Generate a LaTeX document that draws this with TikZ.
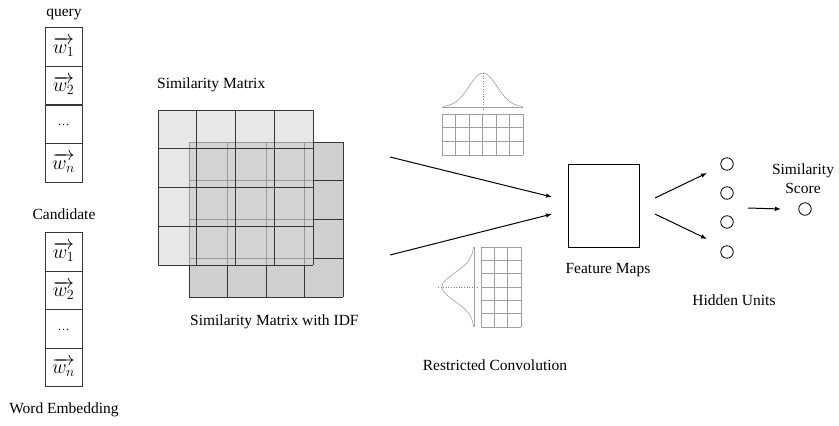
\RequirePackage{fix-cm}
\documentclass[tikz,border=0pt]{standalone}
\usepackage{fontspec}
\usepackage{amsmath}
\setmainfont{Liberation Serif}
\usetikzlibrary{positioning, arrows.meta}

\definecolor{frontgray}{RGB}{218,214,214}
\definecolor{backgray}{RGB}{208,208,208}
\definecolor{linegray}{RGB}{55,55,55}

\begin{document}
\begin{tikzpicture}[x=1pt, y=-1pt,
    every node/.style={font=\fontsize{15.5}{19}\selectfont, inner sep=1pt},
    cell/.style={draw=linegray, line width=0.8pt, minimum width=37pt, minimum height=38.7pt, inner sep=0pt, anchor=north, font=\fontsize{20}{24}\selectfont},
    unit/.style={draw, circle, line width=0.8pt, minimum size=12.5pt, inner sep=0pt},
    flow/.style={-{Latex[length=6pt, width=4.5pt]}, line width=1pt},
    kernel/.style={draw=gray!75, line width=0.6pt}]

    \useasboundingbox (0,0) rectangle (839,426);

    % 1. word embedding columns (query / candidate)
    \foreach \i/\txt in {1/{$\overrightarrow{w_1}$}, 2/{$\overrightarrow{w_2}$}, 3/{\fontsize{12}{14}\selectfont\raisebox{-3pt}{…}}, 4/{$\overrightarrow{w_n}$}} {
        \node[cell] (q\i) at (63.5, {27+38.75*(\i-1)}) {\txt};
        \node[cell] (c\i) at (63.5, {232+38.5*(\i-1)}) {\txt};
    }
    \node[anchor=base] (query) at (64,16) {query};
    \node[anchor=base] (cand) at (64,219) {Candidate};
    \node[anchor=base] (wemb) at (64,413) {Word Embedding};

    % 2. similarity matrices (back one with IDF, front one half transparent)
    \node[fill=backgray, minimum width=154pt, minimum height=155pt, inner sep=0pt] (idf) at (266,219.5) {};
    \foreach \i in {0,...,4} {
        \draw[linegray, line width=0.8pt] ({189+38.5*\i},142) -- ({189+38.5*\i},297);
        \draw[linegray, line width=0.8pt] (189,{142+38.75*\i}) -- (343,{142+38.75*\i});
    }
    \node[fill=frontgray, fill opacity=0.62, minimum width=155pt, minimum height=155pt, inner sep=0pt] (sim) at (235.5,187.5) {};
    \foreach \i in {0,...,4} {
        \draw[linegray, line width=0.8pt] ({158+38.75*\i},110) -- ({158+38.75*\i},265);
        \draw[linegray, line width=0.8pt] (158,{110+38.75*\i}) -- (313,{110+38.75*\i});
    }
    \node[anchor=base west] (simlabel) at (156,88) {Similarity Matrix};
    \node[anchor=base west] (idflabel) at (189,325) {Similarity Matrix with IDF};

    % 3. restricted kernels with their gaussian profiles
    % upper kernel: 6 x 3
    \draw[gray!75, line width=0.6pt] (442,107) -- (523,107);
    \draw[gray!75, line width=0.6pt] plot[domain=-40:40, samples=61, smooth] ({483+\x}, {107-34*exp(-((\x)*(\x))/392)});
    \draw[gray, dotted, line width=0.6pt] (483,73) -- (483,112);
    \foreach \i in {0,...,6}
        \draw[kernel] ({442+13.5*\i},114) -- ({442+13.5*\i},155);
    \foreach \j in {0,...,3}
        \draw[kernel] (442,{114+13.67*\j}) -- (523,{114+13.67*\j});
    % lower kernel: 3 x 6
    \draw[gray!75, line width=0.6pt] (474,247) -- (474,327);
    \draw[gray!75, line width=0.6pt] plot[domain=-40:40, samples=61, smooth] ({474-32*exp(-((\x)*(\x))/392)}, {287+\x});
    \draw[gray, dotted, line width=0.6pt] (438,287) -- (479,287);
    \foreach \i in {0,...,3}
        \draw[kernel] ({481+13.33*\i},247) -- ({481+13.33*\i},327);
    \foreach \j in {0,...,6}
        \draw[kernel] (481,{247+13.33*\j}) -- (521,{247+13.33*\j});
    \node[anchor=base] (conv) at (495,370) {Restricted Convolution};

    % 4. matrices -> feature maps
    \coordinate (simOutA) at (390,157);
    \coordinate (simOutB) at (390,255);
    \coordinate (fmInA) at (552,197);
    \coordinate (fmInB) at (552,214);
    \draw[flow] (simOutA) -- (fmInA);
    \draw[flow] (simOutB) -- (fmInB);

    \node[draw, line width=1pt, minimum width=71pt, minimum height=83pt, inner sep=0pt] (fmap) at (603.5,205.5) {};
    \node[anchor=base] (fmlabel) at (608,273) {Feature Maps};

    % 5. hidden units and score
    \foreach \i/\yy in {1/164, 2/193, 3/222, 4/252}
        \node[unit] (h\i) at (727,\yy) {};
    \coordinate (fmOutA) at (655,198);
    \coordinate (fmOutB) at (655,214);
    \coordinate (hInA) at (707,173);
    \coordinate (hInB) at (707,239);
    \draw[flow] (fmOutA) -- (hInA);
    \draw[flow] (fmOutB) -- (hInB);
    \node[anchor=base] (hlabel) at (734,305) {Hidden Units};

    \node[unit] (out) at (805,209) {};
    \coordinate (hOut) at (748,208);
    \draw[flow] (hOut) -- (out.west -| 781,0);
    \node[align=center] (score) at (803,179) {Similarity\\Score};

\end{tikzpicture}
\end{document}
